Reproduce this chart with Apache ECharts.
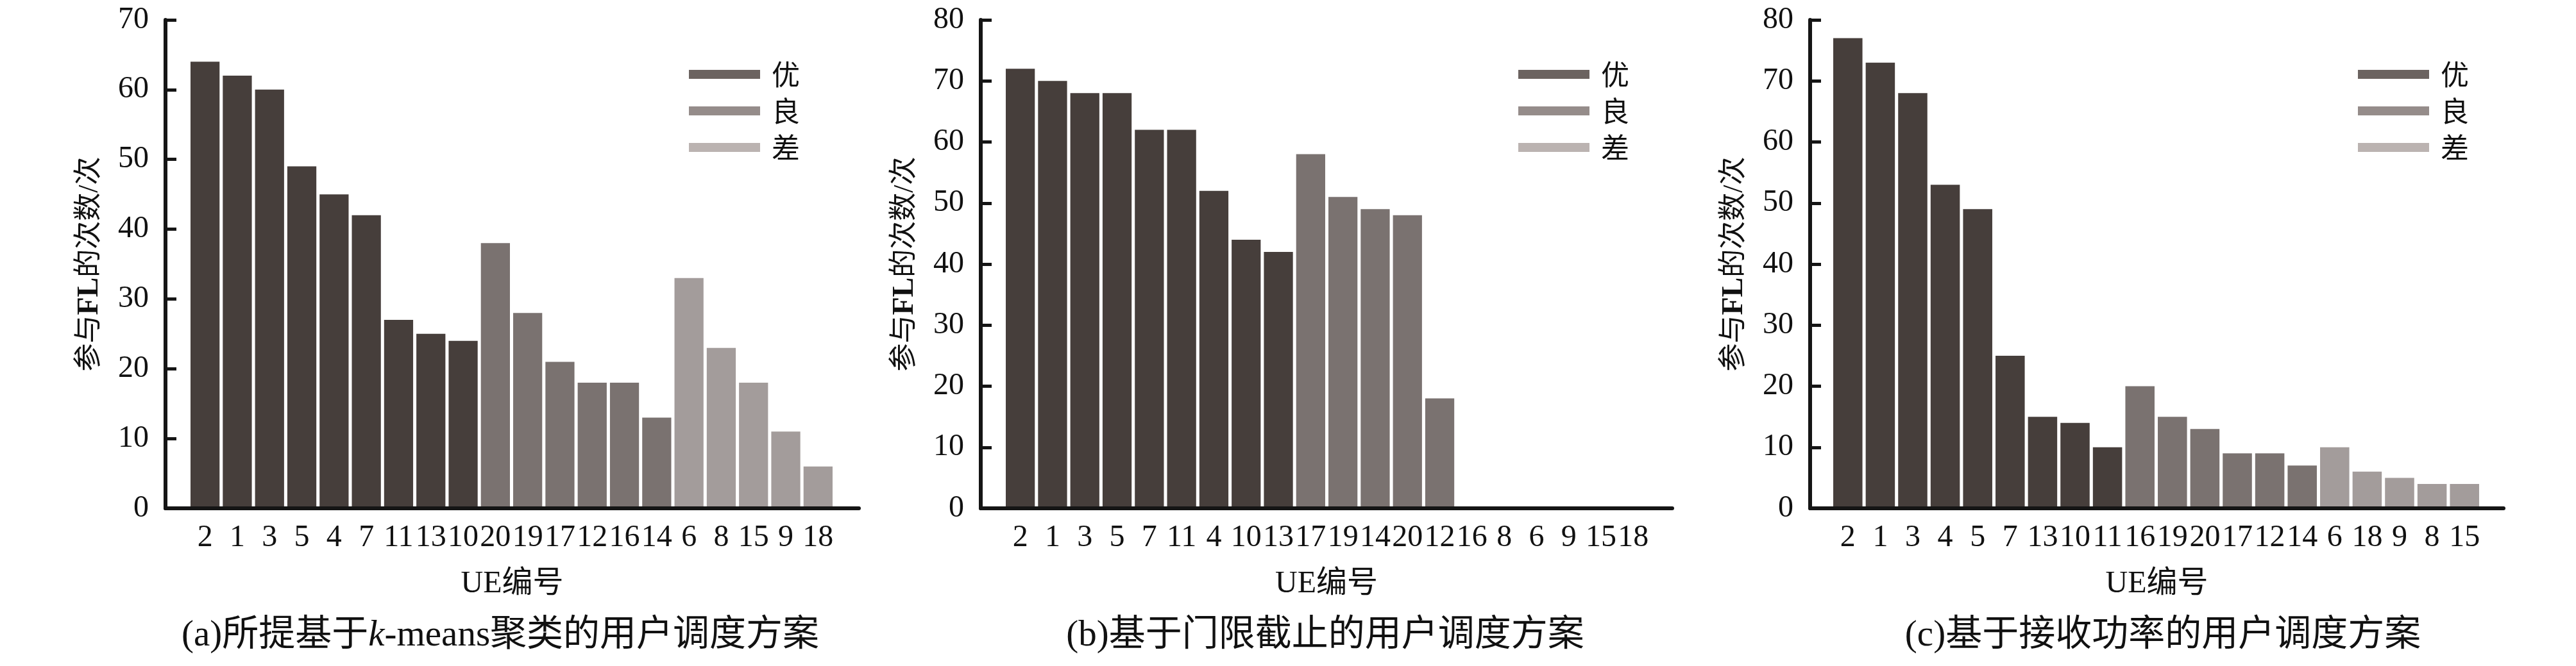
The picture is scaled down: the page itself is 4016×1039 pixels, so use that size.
<!DOCTYPE html>
<html>
<head>
<meta charset="utf-8">
<script src="https://cdn.jsdelivr.net/npm/echarts@6/dist/echarts.min.js"></script>
<style>html,body{margin:0;padding:0;background:#fff}#c{width:4016px;height:1039px}</style>
</head>
<body>
<div id="c"></div>
<script>
// ---- data ----
const gradeNames = ['优', '良', '差'];

const catsA  = ['2','1','3','5','4','7','11','13','10','20','19','17','12','16','14','6','8','15','9','18'];
const valsA  = [64,62,60,49,45,42,27,25,24,38,28,21,18,18,13,33,23,18,11,6];
const gradeA = ['优','优','优','优','优','优','优','优','优','良','良','良','良','良','良','差','差','差','差','差'];

const catsB  = ['2','1','3','5','7','11','4','10','13','17','19','14','20','12','16','8','6','9','15','18'];
const valsB  = [72,70,68,68,62,62,52,44,42,58,51,49,48,18,0,0,0,0,0,0];
const gradeB = ['优','优','优','优','优','优','优','优','优','良','良','良','良','良','差','差','差','差','差','差'];

const catsC  = ['2','1','3','4','5','7','13','10','11','16','19','20','17','12','14','6','18','9','8','15'];
const valsC  = [77,73,68,53,49,25,15,14,10,20,15,13,9,9,7,10,6,5,4,4];
const gradeC = ['优','优','优','优','优','优','优','优','优','良','良','良','良','良','良','差','差','差','差','差'];

const yMaxA = 70, yMaxB = 80, yMaxC = 80;
const yTickStep = 10;

const captionA = '(a)所提基于{i|k}-means聚类的用户调度方案';
const captionB = '(b)基于门限截止的用户调度方案';
const captionC = '(c)基于接收功率的用户调度方案';
const xTitle = 'UE编号';
const yTitle = '{a|参与}{b|FL}{a|的次数/次}';

// ---- styles / layout ----
const barColors = {'优': '#463e3b', '良': '#7a7270', '差': '#a39c9b'};
const legendColors = {'优': '#6b6360', '良': '#958c8a', '差': '#bbb3b1'};
const SERIF = '"Liberation Serif", "Noto Sans CJK SC", serif';
const CJK = '"Noto Sans CJK SC", "Liberation Serif", sans-serif';

const panels = [
  {cats: catsA, vals: valsA, grade: gradeA, yMax: yMaxA, caption: captionA,
   frame: {left: 258, width: 1081}, bars: {left: 294.5, width: 1006}, legend: {left: 1069}, capX: 780},
  {cats: catsB, vals: valsB, grade: gradeB, yMax: yMaxB, caption: captionB,
   frame: {left: 1529, width: 1078}, bars: {left: 1565.5, width: 1006}, legend: {left: 2362}, capX: 2066},
  {cats: catsC, vals: valsC, grade: gradeC, yMax: yMaxC, caption: captionC,
   frame: {left: 2822, width: 1081}, bars: {left: 2855.5, width: 1012}, legend: {left: 3671}, capX: 3372}
];
const TOP = 31, HEIGHT = 762;

const grid = [], xAxis = [], yAxis = [], series = [], legend = [], graphic = [];
panels.forEach((p, k) => {
  const fi = 2 * k, bi = 2 * k + 1;
  grid.push({left: p.frame.left, width: p.frame.width, top: TOP, height: HEIGHT, containLabel: false});
  grid.push({left: p.bars.left, width: p.bars.width, top: TOP, height: HEIGHT, containLabel: false});
  // frame axes
  xAxis.push({type: 'value', gridIndex: fi, min: 0, max: 1, z: 5,
    axisLine: {show: true, lineStyle: {color: '#151515', width: 6}},
    axisTick: {show: false}, axisLabel: {show: false}, splitLine: {show: false},
    name: xTitle, nameLocation: 'middle', nameGap: 94,
    nameTextStyle: {fontFamily: SERIF, fontSize: 48, color: '#111'}});
  yAxis.push({type: 'value', gridIndex: fi, min: 0, max: p.yMax, interval: yTickStep, z: 5,
    axisLine: {show: true, lineStyle: {color: '#151515', width: 6}},
    axisTick: {show: true, inside: true, length: 17, lineStyle: {color: '#151515', width: 5}},
    axisLabel: {fontFamily: SERIF, fontSize: 48, color: '#111', margin: 26},
    splitLine: {show: false},
    name: yTitle, nameLocation: 'middle', nameRotate: 90, nameGap: 95,
    nameTextStyle: {color: '#111', rich: {
      a: {fontFamily: SERIF, fontSize: 44, color: '#111'},
      b: {fontFamily: '"Liberation Serif"', fontWeight: 'bold', fontSize: 46, color: '#111'}}}});
  // bar axes
  xAxis.push({type: 'category', gridIndex: bi, data: p.cats, boundaryGap: true,
    axisLine: {show: false}, axisTick: {show: false}, splitLine: {show: false},
    axisLabel: {interval: 0, fontFamily: SERIF, fontSize: 48, color: '#111', margin: 22}});
  yAxis.push({type: 'value', gridIndex: bi, min: 0, max: p.yMax, show: false, splitLine: {show: false}});
  gradeNames.forEach(g => {
    series.push({type: 'bar', name: g, xAxisIndex: bi, yAxisIndex: bi, stack: 'p' + k,
      barCategoryGap: '10%',
      itemStyle: {color: barColors[g]},
      data: p.vals.map((v, i) => p.grade[i] === g ? v : '-')});
  });
  legend.push({left: p.legend.left, top: 86, orient: 'vertical', icon: 'rect',
    itemWidth: 111, itemHeight: 14, itemGap: 7, selectedMode: false,
    textStyle: {fontFamily: CJK, fontSize: 44, lineHeight: 50, color: '#111', padding: [0, 0, 0, 13]},
    data: gradeNames.map(g => ({name: g, itemStyle: {color: legendColors[g]}}))});
  graphic.push({type: 'text', x: p.capX, y: 992,
    style: {text: p.caption, fontFamily: SERIF, fontSize: 57, fill: '#111', align: 'center', verticalAlign: 'middle',
      rich: {i: {fontFamily: '"Liberation Serif"', fontStyle: 'italic', fontSize: 57, fill: '#111'}}}});
});

const chart = echarts.init(document.getElementById('c'), null, {renderer: 'canvas'});
chart.setOption({
  animation: false,
  backgroundColor: '#fff',
  grid, xAxis, yAxis, series, legend, graphic
});
</script>
</body>
</html>
